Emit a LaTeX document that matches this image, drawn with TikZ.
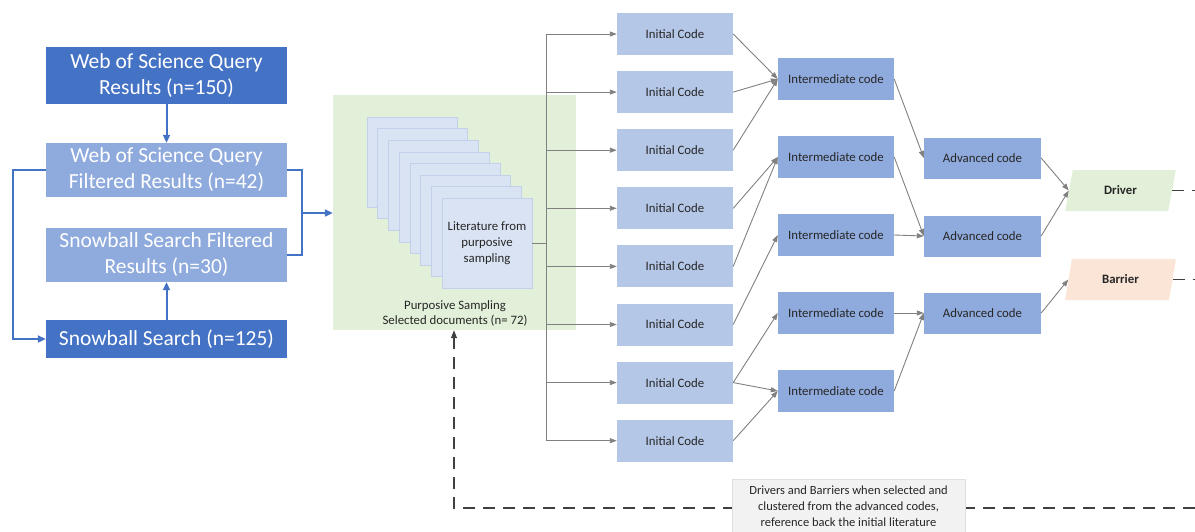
\documentclass[tikz,border=0pt]{standalone}
\usepackage{fontspec}
\setmainfont{Carlito}
\usetikzlibrary{arrows.meta,shapes.geometric}

\definecolor{darkblue}{HTML}{4472C4}
\definecolor{midblue}{HTML}{8FAADC}
\definecolor{paleblue}{HTML}{B4C7E7}
\definecolor{pageblue}{HTML}{DAE3F3}
\definecolor{pageedge}{HTML}{C3D0EA}
\definecolor{palegreen}{HTML}{E2F0D9}
\definecolor{palepeach}{HTML}{FBE5D6}
\definecolor{linegray}{HTML}{808080}
\definecolor{dashgray}{HTML}{404040}
\definecolor{textdark}{HTML}{262626}
\definecolor{notefill}{HTML}{F2F2F2}
\definecolor{noteedge}{HTML}{E0E0E0}

\tikzset{
  searchbox/.style={minimum width=241pt, inner sep=0pt, align=center,
    text=white, font=\fontsize{21.5}{26}\selectfont},
  codebox/.style={minimum width=116pt, minimum height=42pt, inner sep=0pt,
    text=textdark, font=\fontsize{12.8}{14}\selectfont},
  initcode/.style={codebox, fill=paleblue},
  midcode/.style={codebox, fill=midblue},
  outcome/.style={trapezium, trapezium left angle=74, trapezium right angle=106,
    trapezium stretches=true, minimum width=111pt, minimum height=41pt,
    inner sep=0pt, text=textdark, font=\fontsize{12.8}{14}\selectfont\bfseries},
  pagebox/.style={fill=pageblue, draw=pageedge, line width=0.6pt,
    minimum width=90pt, minimum height=90pt, inner sep=0pt},
  blueline/.style={draw=darkblue, line width=2pt},
  bluearrow/.style={blueline, -{Triangle[length=8pt,width=7pt]}},
  flowline/.style={draw=linegray, line width=0.9pt},
  flow/.style={flowline, -{Triangle[length=7pt,width=5pt]}},
  feedback/.style={draw=dashgray, line width=1.2pt, dash pattern=on 12pt off 8pt},
  notebox/.style={fill=notefill, draw=noteedge, line width=0.6pt,
    minimum width=233pt, minimum height=61pt, inner sep=0pt}
}

\begin{document}
\begin{tikzpicture}[x=1pt, y=-1pt]
\useasboundingbox (0,0) rectangle (1195,531);

% ---- literature search ----
\node[searchbox, fill=darkblue, minimum height=57pt] (wosq) at (166.5,75.5)
  {Web of Science Query\\Results (n=150)};
\node[searchbox, fill=midblue, minimum height=54pt] (wosf) at (166.5,170)
  {Web of Science Query\\Filtered Results (n=42)};
\node[searchbox, fill=midblue, minimum height=54pt] (snowf) at (166.5,255)
  {Snowball Search Filtered\\Results (n=30)};
\node[searchbox, fill=darkblue, minimum height=38pt] (snow) at (166.5,339)
  {Snowball Search (n=125)};

\draw[bluearrow] (wosq) -- (wosf);
\draw[bluearrow] (snow) -- (snowf);
\coordinate (loopx) at (13,0);
\draw[bluearrow] (wosf.west) -- (wosf.west -| loopx) -- (snow.west -| loopx) -- (snow.west);

% ---- purposive sampling ----
\node[fill=palegreen, minimum width=243pt, minimum height=235pt, inner sep=0pt]
  (green) at (454.5,212.5) {};
\coordinate (merge) at (302,213);
\draw[blueline] (wosf.east) -- (wosf.east -| merge) -- (snowf.east -| merge) -- (snowf.east);
\draw[bluearrow] (merge) -- (merge -| green.west);

\foreach \k in {0,...,6}
  \node[pagebox] (pg\k) at (412+10.7*\k, 162+11.6*\k) {};
\node[pagebox, align=center, text=textdark, font=\fontsize{12.8}{16}\selectfont]
  (pg7) at (487,243) {Literature from\\purposive\\sampling};
\node[align=center, text=textdark, font=\fontsize{12.8}{15}\selectfont, inner sep=0pt]
  (caption) at (455,313.5) {Purposive Sampling\\Selected documents (n= 72)};

% ---- initial codes ----
\foreach \k in {1,...,8}
  \node[initcode] (i\k) at (675, 34+58.1*\k-58.1) {Initial Code};

\coordinate (trunk) at (546,0);
\draw[flowline] (pg7.east) -- (pg7.east -| trunk);
\draw[flowline] (trunk |- i1.west) -- (trunk |- i8.west);
\foreach \k in {1,...,8}
  \draw[flow] (trunk |- i\k.west) -- (i\k.west);

% ---- intermediate codes ----
\foreach \k in {1,...,5}
  \node[midcode] (m\k) at (836, 79+78*\k-78) {Intermediate code};

\draw[flow] (i1.east) -- (m1.west);
\draw[flow] (i2.east) -- (m1.west);
\draw[flow] (i3.east) -- (m1.west);
\draw[flow] (i4.east) -- (m2.west);
\draw[flow] (i5.east) -- (m2.west);
\draw[flow] (i6.east) -- (m3.west);
\draw[flow] (i7.east) -- (m4.west);
\draw[flow] (i7.east) -- (m5.west);
\draw[flow] (i8.east) -- (m5.west);

% ---- advanced codes ----
\node[midcode, minimum width=117pt, minimum height=41pt] (a1) at (982.5,158) {Advanced code};
\node[midcode, minimum width=117pt, minimum height=41pt] (a2) at (982.5,236) {Advanced code};
\node[midcode, minimum width=117pt, minimum height=41pt] (a3) at (982.5,313) {Advanced code};

\draw[flow] (m1.east) -- (a1.west);
\draw[flow] (m2.east) -- (a2.west);
\draw[flow] (m3.east) -- (a2.west);
\draw[flow] (m4.east) -- (a3.west);
\draw[flow] (m5.east) -- (a3.west);

% ---- outcomes ----
\node[outcome, fill=palegreen] (driver) at (1120.5,190.5) {Driver};
\node[outcome, fill=palepeach] (barrier) at (1120.5,279.5) {Barrier};

\draw[flow] (a1.east) -- (driver.west);
\draw[flow] (a2.east) -- (driver.west);
\draw[flow] (a3.east) -- (barrier.west);

% ---- feedback to the selected literature ----
\coordinate (redge) at (1195,0);
\draw[feedback] (driver.east) -- (driver.east -| redge);
\draw[feedback] (barrier.east) -- (barrier.east -| redge);
\coordinate (fbstart) at (1195,508);
\coordinate (fbcorner) at (454,508);
\draw[feedback, -{Triangle[length=8pt,width=6pt]}] (fbstart) -- (fbcorner) -- (green.south -| fbcorner);
\node[notebox] (note) at (848.5,509.5) {};
\node[align=center, inner sep=0pt, text=textdark, font=\fontsize{12.5}{16}\selectfont]
  (notetext) at (848.5,506)
  {Drivers and Barriers when selected and\\clustered from the advanced codes,\\reference back the initial literature};
\end{tikzpicture}
\end{document}
